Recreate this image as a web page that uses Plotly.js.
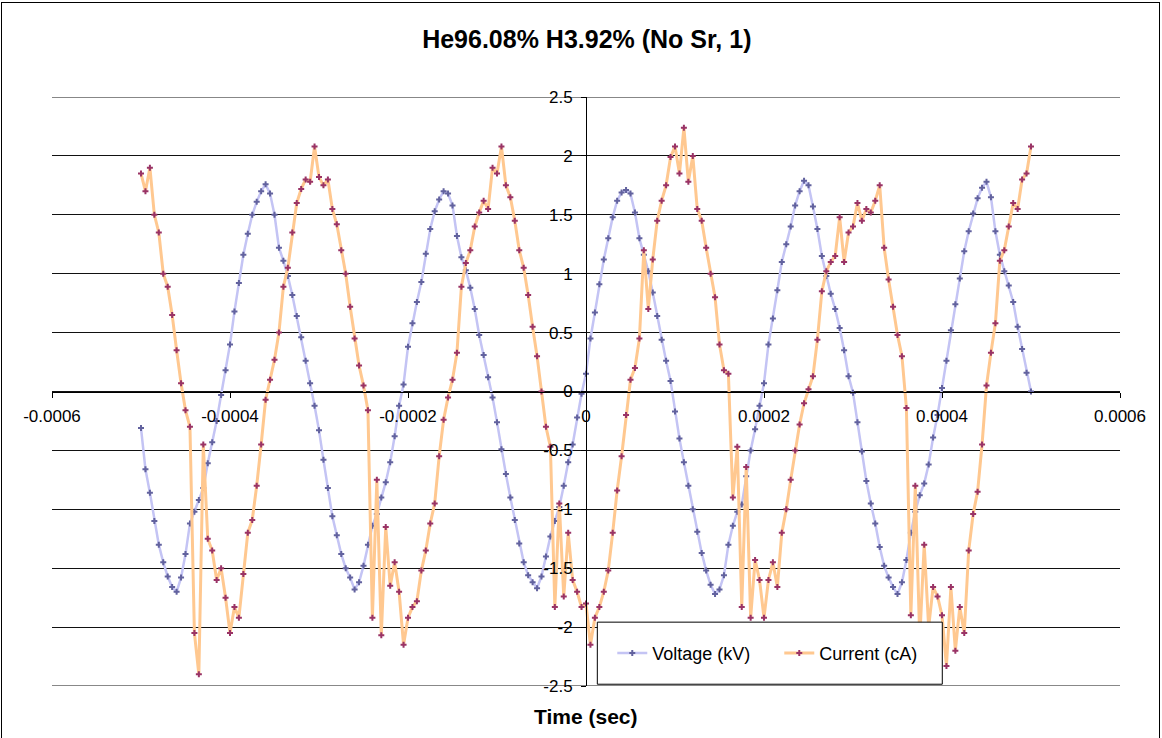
<!DOCTYPE html>
<html><head><meta charset="utf-8">
<script src="https://cdn.plot.ly/plotly-3.0.1.min.js"></script>
<style>
html,body{margin:0;padding:0;background:#fff;}
#chart{width:1162px;height:738px;}
#frame{position:absolute;left:1px;top:2px;width:1157px;height:800px;border:1px solid #000;pointer-events:none;}
</style>
</head><body>
<div id="chart"></div><div id="frame"></div>
<script>
// sample times in microseconds
const timeUs = [
-500,-495,-490,-485,-480,-475,-470,-465,-460,-455,
-450,-445,-440,-435,-430,-425,-420,-415,-410,-405,
-400,-395,-390,-385,-380,-375,-370,-365,-360,-355,
-350,-345,-340,-335,-330,-325,-320,-315,-310,-305,
-300,-295,-290,-285,-280,-275,-270,-265,-260,-255,
-250,-245,-240,-235,-230,-225,-220,-215,-210,-205,
-200,-195,-190,-185,-180,-175,-170,-165,-160,-155,
-150,-145,-140,-135,-130,-125,-120,-115,-110,-105,
-100,-95,-90,-85,-80,-75,-70,-65,-60,-55,
-50,-45,-40,-35,-30,-25,-20,-15,-10,-5,
0,5,10,15,20,25,30,35,40,45,
50,55,60,65,70,75,80,85,90,95,
100,105,110,115,120,125,130,135,140,145,
150,155,160,165,170,175,180,185,190,195,
200,205,210,215,220,225,230,235,240,245,
250,255,260,265,270,275,280,285,290,295,
300,305,310,315,320,325,330,335,340,345,
350,355,360,365,370,375,380,385,390,395,
400,405,410,415,420,425,430,435,440,445,
450,455,460,465,470,475,480,485,490,495,
500];

const voltage = [
-0.31,-0.66,-0.86,-1.10,-1.30,-1.45,-1.57,-1.66,-1.70,-1.58,
-1.38,-1.12,-1.02,-0.92,-0.82,-0.61,-0.43,-0.25,-0.03,0.18,
0.40,0.68,0.92,1.16,1.34,1.50,1.61,1.70,1.76,1.68,
1.50,1.22,1.11,0.98,0.82,0.64,0.46,0.26,0.07,-0.12,
-0.33,-0.58,-0.82,-1.06,-1.22,-1.38,-1.50,-1.58,-1.68,-1.62,
-1.48,-1.30,-1.14,-1.04,-0.90,-0.77,-0.60,-0.38,-0.12,0.06,
0.38,0.58,0.76,0.93,1.17,1.38,1.53,1.63,1.70,1.68,
1.58,1.32,1.14,1.03,0.88,0.70,0.48,0.31,0.12,-0.05,
-0.26,-0.49,-0.70,-0.90,-1.09,-1.29,-1.45,-1.56,-1.62,-1.67,
-1.57,-1.40,-1.23,-1.10,-0.98,-0.80,-0.60,-0.45,-0.22,-0.02,
0.15,0.45,0.67,0.91,1.12,1.30,1.48,1.62,1.69,1.71,
1.68,1.52,1.30,1.16,1.02,0.84,0.64,0.44,0.26,0.09,
-0.17,-0.40,-0.60,-0.80,-1.00,-1.19,-1.37,-1.52,-1.64,-1.72,
-1.68,-1.56,-1.30,-1.14,-1.02,-0.96,-0.72,-0.50,-0.32,-0.12,
0.07,0.40,0.62,0.86,1.10,1.25,1.40,1.58,1.70,1.79,
1.75,1.57,1.38,1.15,0.98,0.83,0.70,0.54,0.35,0.13,
-0.01,-0.26,-0.51,-0.76,-0.95,-1.12,-1.32,-1.48,-1.58,-1.66,
-1.72,-1.62,-1.43,-1.20,-1.02,-0.88,-0.78,-0.62,-0.39,-0.20,
0.03,0.26,0.52,0.74,0.96,1.19,1.36,1.51,1.64,1.73,
1.78,1.65,1.36,1.16,1.02,0.90,0.76,0.55,0.36,0.16,
0.00];

const current = [
1.85,1.70,1.90,1.50,1.35,1.00,0.89,0.65,0.35,0.07,
-0.16,-0.30,-2.05,-2.40,-0.45,-1.25,-1.35,-1.60,-1.50,-1.75,
-2.05,-1.83,-1.92,-1.55,-1.20,-1.09,-0.80,-0.45,-0.07,0.10,
0.27,0.50,0.89,1.05,1.35,1.60,1.72,1.80,1.78,2.08,
1.82,1.75,1.80,1.55,1.42,1.20,1.00,0.72,0.45,0.22,
0.05,-0.16,-1.92,-0.75,-2.07,-1.15,-1.65,-1.45,-1.70,-2.15,
-1.92,-1.83,-1.78,-1.52,-1.35,-1.12,-0.95,-0.55,-0.24,-0.05,
0.10,0.33,0.89,1.09,1.20,1.40,1.52,1.62,1.55,1.90,
1.85,2.08,1.75,1.65,1.45,1.20,1.05,0.82,0.55,0.30,
0.00,-0.30,-0.47,-1.83,-0.95,-1.74,-1.20,-1.60,-1.70,-1.83,
-1.80,-2.15,-1.92,-1.83,-1.70,-1.52,-1.20,-0.84,-0.55,-0.20,
0.10,0.20,0.45,1.20,0.70,1.12,1.45,1.62,1.75,1.99,
2.08,1.85,2.24,1.78,2.00,1.55,1.45,1.22,1.00,0.80,
0.40,0.18,0.15,-0.90,-0.47,-1.83,-0.64,-1.92,-1.43,-1.60,
-1.92,-1.60,-1.45,-1.66,-1.20,-1.00,-0.75,-0.50,-0.28,-0.10,
0.02,0.13,0.44,0.85,1.02,1.10,1.15,1.48,1.10,1.35,
1.40,1.60,1.45,1.55,1.52,1.62,1.75,1.22,0.95,0.72,
0.48,0.30,-0.14,-1.90,-0.80,-2.10,-1.30,-2.00,-1.66,-1.74,
-1.90,-2.33,-1.66,-2.20,-1.83,-2.05,-1.35,-1.04,-0.85,-0.45,
0.05,0.33,0.58,1.11,1.20,1.40,1.60,1.55,1.80,1.85,
2.08];

const xTickVals = [-0.0006,-0.0004,-0.0002,0,0.0002,0.0004,0.0006];
const xTickText = ["-0.0006","-0.0004","-0.0002","0","0.0002","0.0004","0.0006"];
const yTickVals = [-2.5,-2,-1.5,-1,-0.5,0,0.5,1,1.5,2,2.5];
const yTickText = ["-2.5","-2","-1.5","-1","-0.5","0","0.5","1","1.5","2","2.5"];
const yRange = [-2.5, 2.5];

const timeSec = timeUs.map(v => v * 1e-6);
const FONT = "Liberation Sans, Arial, sans-serif";
const GRID = "#111";

const traces = [
  {x: timeSec, y: voltage, name: "Voltage (kV)", type: "scatter", mode: "lines+markers",
   line: {color: "#c4c4f4", width: 2.5},
   marker: {symbol: "cross", size: 5, color: "#62629e"}},
  {x: timeSec, y: current, name: "Current (cA)", type: "scatter", mode: "lines+markers",
   line: {color: "#ffc890", width: 3},
   marker: {symbol: "cross", size: 5, color: "#993366"}}
];

const layout = {
  width: 1162, height: 738,
  margin: {l: 52, r: 42, t: 97, b: 52},
  paper_bgcolor: "#fff", plot_bgcolor: "#fff",
  font: {family: FONT, color: "#000", size: 17},
  title: {text: "He96.08% H3.92% (No Sr, 1)", font: {family: FONT, size: 25, weight: "bold", color: "#000"},
          x: 0.505, xref: "container", xanchor: "center", y: 0.947, yref: "container", yanchor: "middle"},
  xaxis: {range: [-0.0006, 0.0006], anchor: "free", position: 0.5,
          showline: true, linecolor: "#000", linewidth: 1,
          ticks: "outside", ticklen: 5, tickcolor: "#000", tickwidth: 1, ticklabelstandoff: 4,
          tickvals: xTickVals, ticktext: xTickText, showgrid: false, zeroline: false,
          tickfont: {family: FONT, size: 17, color: "#000"}, automargin: false},
  yaxis: {range: yRange, anchor: "free", position: 0.5,
          showline: true, linecolor: "#000", linewidth: 1,
          ticks: "outside", ticklen: 5, tickcolor: "#000", tickwidth: 1, ticklabelstandoff: 5,
          tickvals: yTickVals, ticktext: yTickText, showgrid: true, gridcolor: GRID, gridwidth: 1,
          zeroline: false, tickfont: {family: FONT, size: 17, color: "#000"}, automargin: false},
  showlegend: true,
  legend: {orientation: "h", x: 0.5246, y: 0.0557, xanchor: "left", yanchor: "middle",
           bgcolor: "rgba(0,0,0,0)", borderwidth: 0, font: {family: FONT, size: 18, color: "#000"},
           entrywidth: 122, entrywidthmode: "pixels"},
  shapes: [
    {type: "line", xref: "paper", x0: 0, x1: 1, yref: "y", y0: yRange[1], y1: yRange[1],
     line: {color: GRID, width: 1}, layer: "below"},
    {type: "line", xref: "paper", x0: 0, x1: 1, yref: "y", y0: yRange[0], y1: yRange[0],
     line: {color: GRID, width: 1}, layer: "below"},
    {type: "rect", xref: "paper", yref: "paper", x0: 0.5106, x1: 0.8336, y0: 0.003, y1: 0.1084,
     fillcolor: "#fff", line: {color: "#000", width: 1}, layer: "above"}
  ],
  annotations: [
    {text: "Time (sec)", xref: "paper", yref: "paper", x: 0.5, y: -0.0513, xanchor: "center", yanchor: "middle",
     showarrow: false, font: {family: FONT, size: 21, weight: "bold", color: "#000"}}
  ]
};

Plotly.newPlot("chart", traces, layout, {displayModeBar: false, staticPlot: true});
</script>
</body></html>
